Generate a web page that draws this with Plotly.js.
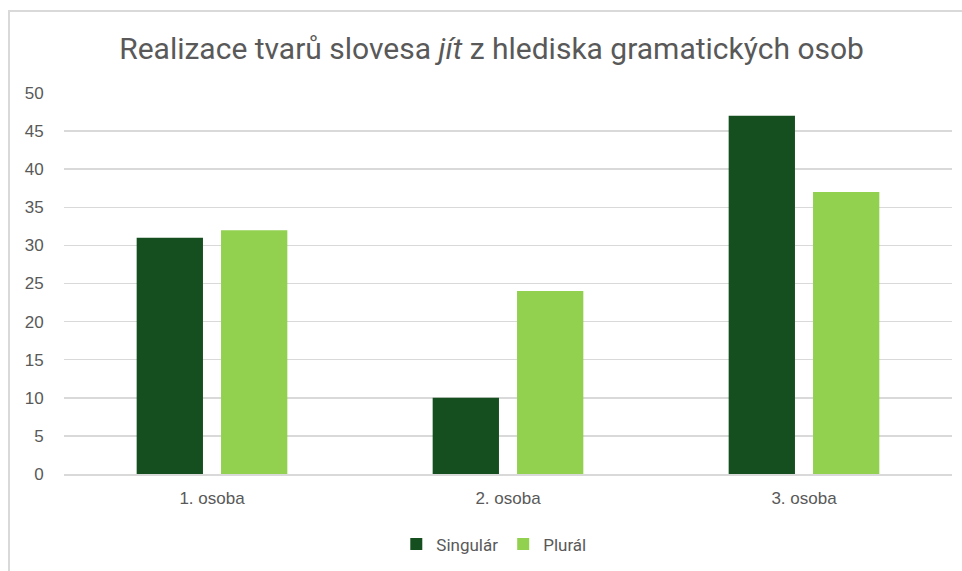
<!DOCTYPE html>
<html>
<head>
<meta charset="utf-8">
<script src="https://cdn.plot.ly/plotly-3.0.1.min.js"></script>
<style>
html,body{margin:0;padding:0;background:#fff;overflow:hidden;}
#chart{width:962px;height:571px;position:absolute;left:0;top:0;}
#frame{position:absolute;left:8px;top:10px;width:1000px;height:1000px;border-left:2px solid #d9d9d9;border-top:2px solid #d9d9d9;pointer-events:none;}
</style>
</head>
<body>
<div id="chart"></div>
<div id="frame"></div>
<script>
const categories = ["1. osoba", "2. osoba", "3. osoba"];
const singular = [31, 10, 47];
const plural = [32, 24, 37];
const seriesNames = ["Singulár", "Plurál"];

const font = "Roboto, 'Open Sans', sans-serif";
const data = [
  {type: "bar", name: seriesNames[0], x: categories, y: singular, marker: {color: "#154f1f"}},
  {type: "bar", name: seriesNames[1], x: categories, y: plural, marker: {color: "#92d050"}}
];
const layout = {
  width: 962, height: 571,
  margin: {l: 64, r: 10, t: 93, b: 97, autoexpand: false},
  paper_bgcolor: "#fff", plot_bgcolor: "#fff",
  font: {family: font, color: "#595959", size: 17},
  title: {text: "Realizace tvarů slovesa <i>jít</i> z hlediska gramatických osob",
          font: {family: font, size: 30, color: "#595959"},
          x: 0.511, xanchor: "center", y: 0.915, yanchor: "middle"},
  barmode: "group", bargap: 0.43, bargroupgap: 0.214,
  xaxis: {showgrid: false, showline: true, linecolor: "#d9d9d9", linewidth: 1.5,
          ticks: "outside", ticklen: 8, tickcolor: "rgba(0,0,0,0)",
          tickfont: {family: "'Liberation Sans', Arial, sans-serif", size: 17, color: "#595959"}},
  yaxis: {range: [0, 50], dtick: 5, tick0: 0, showgrid: true, gridcolor: "#d9d9d9", gridwidth: 1.5,
          zeroline: false, ticks: "outside", ticklen: 16, tickcolor: "rgba(0,0,0,0)",
          tickfont: {family: "'Liberation Sans', Arial, sans-serif", size: 17, color: "#595959"}},
  showlegend: true,
  legend: {orientation: "h", x: 0.484, xanchor: "center", y: -0.185, yanchor: "middle",
           font: {size: 17, color: "#595959"}, itemwidth: 30, traceorder: "normal"}
};
Plotly.newPlot("chart", data, layout, {displayModeBar: false, staticPlot: true});
</script>
</body>
</html>
